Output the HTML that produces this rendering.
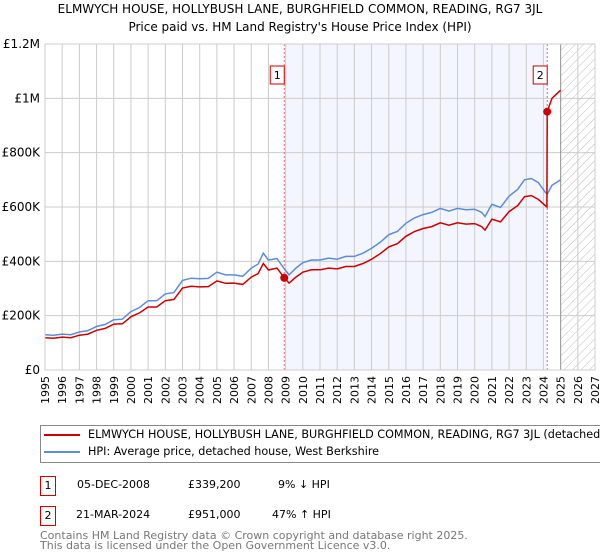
<!DOCTYPE html>
<html><head><meta charset="utf-8"><style>
body{margin:0;width:600px;height:560px;background:#fff;font-family:"DejaVu Sans","Liberation Sans",sans-serif;overflow:hidden;position:relative}
.t{position:absolute;font-size:11px;color:#000;white-space:nowrap}
.box{position:absolute;border:1px solid #c00;width:14px;height:18px;text-align:center;font-size:11px;line-height:18px;background:#fff}
</style></head><body>
<div class="t" style="left:0;width:600px;text-align:center;top:2px;font-size:12px">ELMWYCH HOUSE, HOLLYBUSH LANE, BURGHFIELD COMMON, READING, RG7 3JL</div>
<div class="t" style="left:0;width:600px;text-align:center;top:20px;font-size:12px">Price paid vs. HM Land Registry's House Price Index (HPI)</div>
<svg id="chart" width="600" height="420" style="position:absolute;left:0;top:0"></svg>
<div style="position:absolute;left:40px;top:425px;width:560px;height:38px;overflow:hidden">
<div style="position:absolute;left:0;top:0;width:600px;height:36px;border:1px solid #888"></div>
<div style="position:absolute;left:4px;top:9px;width:36px;height:2px;background:#c00"></div>
<div class="t" style="left:48px;top:3px;font-size:11.2px">ELMWYCH HOUSE, HOLLYBUSH LANE, BURGHFIELD COMMON, READING, RG7 3JL (detached house)</div>
<div style="position:absolute;left:4px;top:26px;width:36px;height:2px;background:#5b8ed6"></div>
<div class="t" style="left:48px;top:20px;font-size:11.2px">HPI: Average price, detached house, West Berkshire</div>
</div>
<div class="box" style="left:40px;top:476px">1</div>
<div class="t" style="left:77px;top:478px">05-DEC-2008</div>
<div class="t" style="left:188px;top:478px">£339,200</div>
<div class="t" style="left:278px;top:478px">9% ↓ HPI</div>
<div class="box" style="left:40px;top:506px">2</div>
<div class="t" style="left:76px;top:508px">21-MAR-2024</div>
<div class="t" style="left:188px;top:508px">£951,000</div>
<div class="t" style="left:272px;top:508px">47% ↑ HPI</div>
<div class="t" style="left:40px;top:531px;color:#777;font-size:11px;line-height:10px">Contains HM Land Registry data © Crown copyright and database right 2025.<br>This data is licensed under the Open Government Licence v3.0.</div>
<script>
const hpiYears=[1995,1995.5,1996,1996.5,1997,1997.5,1998,1998.5,1999,1999.5,2000,2000.5,2001,2001.5,2002,2002.5,2003,2003.5,2004,2004.5,2005,2005.5,2006,2006.5,2007,2007.4,2007.7,2008,2008.5,2008.92,2009.2,2009.6,2010,2010.5,2011,2011.5,2012,2012.5,2013,2013.5,2014,2014.5,2015,2015.5,2016,2016.5,2017,2017.5,2018,2018.5,2019,2019.5,2020,2020.4,2020.6,2021,2021.5,2022,2022.5,2022.9,2023.3,2023.7,2024.1,2024.22,2024.5,2025];
const hpiValues=[130000,128000,132000,130000,140000,145000,160000,168000,185000,187000,215000,230000,255000,255000,280000,285000,330000,338000,336000,337000,360000,350000,350000,345000,375000,390000,430000,405000,410000,372000,350000,375000,395000,405000,405000,412000,408000,418000,418000,430000,448000,470000,498000,510000,540000,560000,572000,580000,595000,585000,595000,590000,592000,580000,565000,610000,598000,640000,665000,700000,705000,690000,655000,647000,680000,700000];
const redYears=[1995,1995.5,1996,1996.5,1997,1997.5,1998,1998.5,1999,1999.5,2000,2000.5,2001,2001.5,2002,2002.5,2003,2003.5,2004,2004.5,2005,2005.5,2006,2006.5,2007,2007.4,2007.7,2008,2008.5,2008.92,2009.2,2009.6,2010,2010.5,2011,2011.5,2012,2012.5,2013,2013.5,2014,2014.5,2015,2015.5,2016,2016.5,2017,2017.5,2018,2018.5,2019,2019.5,2020,2020.4,2020.6,2021,2021.5,2022,2022.5,2022.9,2023.3,2023.7,2024.2,2024.22,2024.5,2025];
const redValues=[119000,117000,121000,119000,128000,132000,146000,153000,169000,170000,196000,210000,232000,232000,255000,260000,302000,308000,306000,307000,328000,319000,320000,315000,342000,355000,392000,368000,375000,339200,320000,342000,360000,369000,369000,375000,372000,381000,381000,392000,408000,428000,453000,465000,492000,510000,521000,528000,542000,533000,542000,537000,539000,528000,515000,555000,545000,583000,605000,638000,642000,628000,600000,951000,1000000,1030000];
const sales=[{n:"1",y:2008.92,v:339200},{n:"2",y:2024.22,v:951000}];
const yTicks=[0,200000,400000,600000,800000,1000000,1200000];
const yTickLabels=["£0","£200K","£400K","£600K","£800K","£1M","£1.2M"];
const xTicks=[1995,1996,1997,1998,1999,2000,2001,2002,2003,2004,2005,2006,2007,2008,2009,2010,2011,2012,2013,2014,2015,2016,2017,2018,2019,2020,2021,2022,2023,2024,2025,2026,2027];
const NS="http://www.w3.org/2000/svg";
const svg=document.getElementById('chart');
const L=45,R=595,T=44,B=370;
const X=y=>L+(y-1995)/(2027-1995)*(R-L);
const Y=v=>B-v/1200000*(B-T);
function mk(tag,attrs){const e=document.createElementNS(NS,tag);for(const k in attrs)e.setAttribute(k,attrs[k]);svg.appendChild(e);return e;}
const defs=mk('defs',{});
defs.innerHTML='<pattern id="hatch" width="6" height="6" patternUnits="userSpaceOnUse" patternTransform="rotate(45)"><line x1="0" y1="0" x2="0" y2="6" stroke="#bbb" stroke-width="1"/></pattern>';
let e=mk('rect',{x:X(sales[0].y),y:T,width:X(sales[1].y)-X(sales[0].y),height:B-T,fill:'#f3f6fe'});

e=mk('rect',{x:X(2025),y:T,width:X(2027)-X(2025),height:B-T,fill:'url(#hatch)'});

xTicks.forEach(y=>{const l=mk('line',{x1:X(y),x2:X(y),y1:T,y2:B,stroke:'#ccc','stroke-width':1});

const t=mk('text',{x:0,y:0,transform:`translate(${X(y)+4},${B+6}) rotate(-90)`,'text-anchor':'end','font-size':11,fill:'#000'});
t.textContent=y;});
yTicks.forEach((v,i)=>{const l=mk('line',{x1:L,x2:R,y1:Y(v),y2:Y(v),stroke:'#ccc','stroke-width':1});

const t=mk('text',{x:L-5,y:Y(v)+4,'text-anchor':'end','font-size':12,fill:'#000'});
t.textContent=yTickLabels[i];});
e=mk('line',{x1:X(2025),x2:X(2025),y1:T,y2:B,stroke:'#999','stroke-width':1});

sales.forEach(s=>{const l=mk('line',{x1:X(s.y),x2:X(s.y),y1:T,y2:B,stroke:'#e66','stroke-width':1,'stroke-dasharray':'2,2'});
});
const pts=(xs,vs)=>xs.map((y,i)=>X(y).toFixed(1)+','+Y(vs[i]).toFixed(1)).join(' ');
e=mk('polyline',{points:pts(hpiYears,hpiValues),fill:'none',stroke:'#5b8ed6','stroke-width':1.5});

e=mk('polyline',{points:pts(redYears,redValues),fill:'none',stroke:'#cc0000','stroke-width':1.5});

sales.forEach(s=>{const c=mk('circle',{cx:X(s.y),cy:Y(s.v),r:4,fill:'#cc0000'});

const r=mk('rect',{x:X(s.y)-14,y:66,width:14,height:18,fill:'#fff',stroke:'#c00'});

const t=mk('text',{x:X(s.y)-7,y:79,'text-anchor':'middle','font-size':11});
t.textContent=s.n;});
e=mk('rect',{x:L,y:T,width:R-L,height:B-T,fill:'none',stroke:'#ccc'});

</script>
</body></html>
